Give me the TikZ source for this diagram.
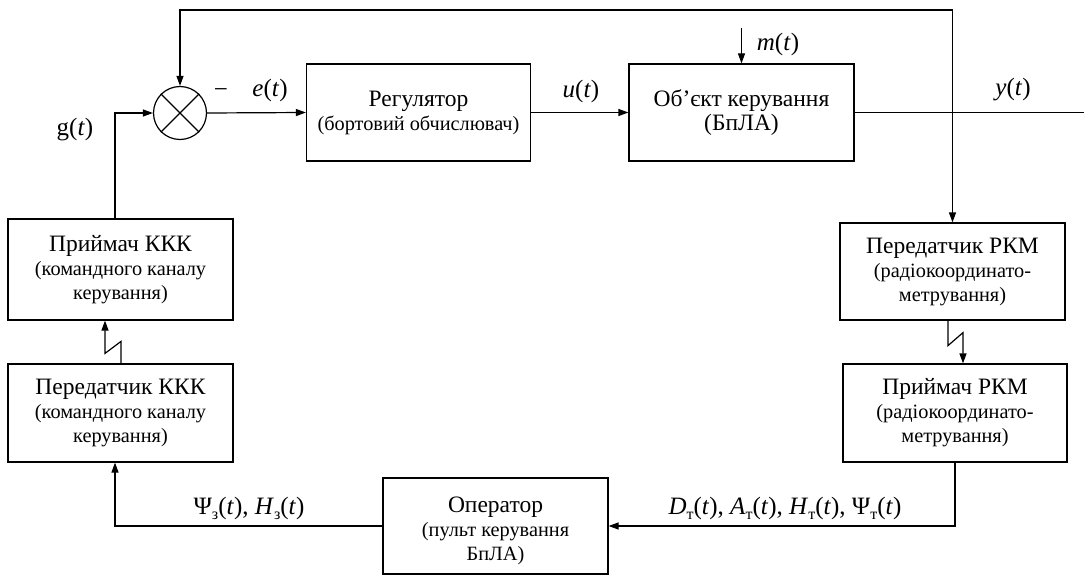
\documentclass[tikz,border=0pt]{standalone}
\usepackage{fontspec}
\setmainfont{Liberation Serif}
\usetikzlibrary{arrows.meta}
\newcommand\ttlf{\fontsize{23.5}{24}\selectfont}
\newcommand\subf{\fontsize{20.3}{24}\selectfont}
\newcommand\lblf{\fontsize{25}{26}\selectfont}
\newcommand\lowi[1]{\raisebox{-0.45ex}{\fontsize{16}{16}\selectfont #1}}
\begin{document}
\begin{tikzpicture}[x=1pt,y=-1pt,
  every path/.style={line width=1.2pt},
  arr/.style={-{Triangle[length=10pt,width=7pt]}},
  blk/.style={draw, line width=1.2pt, inner sep=0pt, minimum width=225pt, align=center, font=\subf},
  lbl/.style={inner sep=0pt, font=\lblf}]
\useasboundingbox (0,0) rectangle (1084,575);
% blocks
\node[blk, minimum width=224pt, minimum height=97pt] (reg) at (418.5,112.5)
  {{\ttlf Регулятор}\\(бортовий обчислювач)};
\node[blk, minimum height=97pt] (obj) at (741.5,112.5)
  {{\ttlf Об’єкт керування}\\{\ttlf (БпЛА)}};
\node[draw, circle, minimum size=53pt, inner sep=0pt] (sum) at (180,113) {};
\draw (sum.north east) -- (sum.south west);
\draw (sum.north west) -- (sum.south east);
\node[blk, minimum height=101pt] (prk) at (120.5,269.5)
  {{\ttlf Приймач ККК}\\(командного каналу\\керування)};
\node[blk, minimum height=98pt] (pdk) at (120.5,413)
  {{\ttlf Передатчик ККК}\\(командного каналу\\керування)};
\node[blk, minimum height=97pt] (ptr) at (952.5,271.5)
  {{\ttlf Передатчик РКМ}\\(радіокоординато-\\метрування)};
\node[blk, minimum width=224pt, minimum height=98pt] (prr) at (955,413)
  {{\ttlf Приймач РКМ}\\(радіокоординато-\\метрування)};
\node[blk, minimum height=96pt] (op) at (495.5,526) {};
\node[align=center, inner sep=0pt, font=\subf] (optext) at (495.5,531)
  {{\ttlf Оператор}\\(пульт керування\\БпЛА)};
% connectors
\coordinate (fbtop) at (952.5,10);
\coordinate (mtop) at (741.5,28);
\coordinate (yend) at (1084,112.5);
\draw[arr] (sum.east) -- (reg.west);
\draw[arr] (reg.east) -- (obj.west);
\draw (obj.east) -- (yend);
\draw[arr] (fbtop) -- (ptr.north);
\draw[arr] (fbtop) -| (sum.north);
\draw[arr] (mtop) -- (obj.north);
\draw[arr] ([xshift=-5.5pt]prk.north) |- (sum.west);
\draw[arr] ([xshift=0.5pt]pdk.north) -- ++(0,-22) -- ++(-16,12) -- ([xshift=-15.5pt]prk.south);
\draw[arr] ([xshift=-4.5pt]ptr.south) -- ++(0,25) -- ++(15,-13) -- ([xshift=8pt]prr.north);
\draw[arr] (prr.south) |- (op.east);
\draw[arr] (op.west) -| ([xshift=-5.5pt]pdk.south);
% labels
\node[lbl] (minus) at (221,93) {−};
\node[lbl] (le) at (270,90) {\textit{e}(\textit{t})};
\node[lbl] (lu) at (581,91) {\textit{u}(\textit{t})};
\node[lbl] (lm) at (778,44) {\textit{m}(\textit{t})};
\node[lbl] (ly) at (1013,90) {\textit{y}(\textit{t})};
\node[lbl] (lg) at (75,130) {g(\textit{t})};
\node[lbl] (lpsi) at (249,508) {Ψ\lowi{з}(\textit{t}), \textit{H}\lowi{з}(\textit{t})};
\node[lbl] (ld) at (785,508) {\textit{D}\lowi{т}(\textit{t}), \textit{A}\lowi{т}(\textit{t}), \textit{H}\lowi{т}(\textit{t}), Ψ\lowi{т}(\textit{t})};
\end{tikzpicture}
\end{document}
